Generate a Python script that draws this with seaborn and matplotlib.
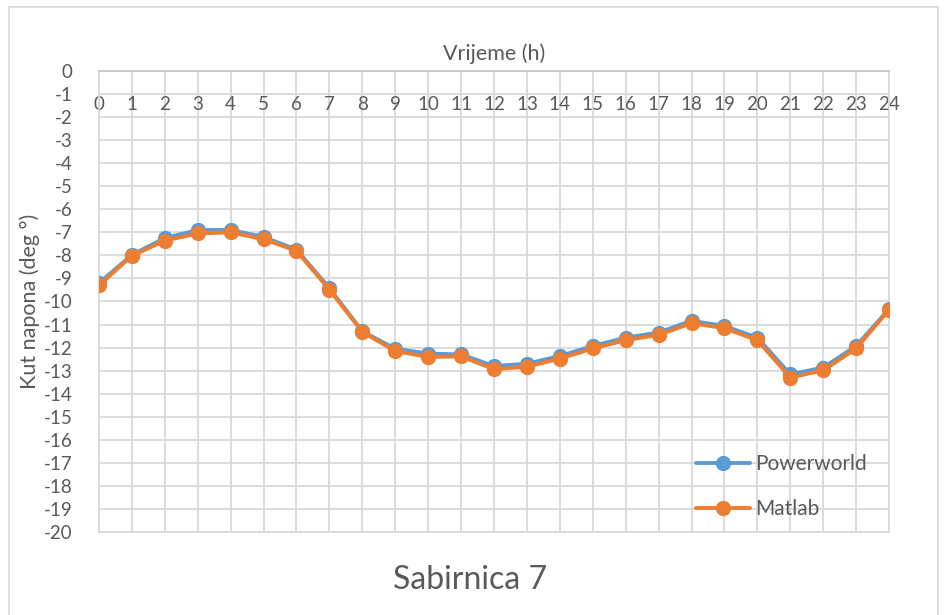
import seaborn as sns
import matplotlib.pyplot as plt
import matplotlib.patches as patches
import pandas as pd

# values (Sabirnica 7)
hours = list(range(25))
powerworld = [-9.2, -7.98, -7.25, -6.9, -6.9, -7.2, -7.75, -9.42, -11.3, -12.05, -12.26, -12.3, -12.8,
              -12.7, -12.37, -11.93, -11.57, -11.35, -10.84, -11.06, -11.57, -13.16, -12.87, -11.93, -10.33]
matlab = [-9.3, -8.02, -7.36, -7.05, -7.0, -7.3, -7.8, -9.49, -11.32, -12.15, -12.41, -12.38, -12.94,
          -12.83, -12.48, -12.04, -11.68, -11.45, -10.94, -11.16, -11.68, -13.30, -12.99, -12.04, -10.36]
series_names = ["Powerworld", "Matlab"]
y_ticks = list(range(0, -21, -1))

df = pd.DataFrame({
    "Vrijeme": hours * 2,
    "Kut": powerworld + matlab,
    "Serija": [series_names[0]] * len(hours) + [series_names[1]] * len(hours),
})

sns.set_style("white")
plt.rcParams["font.family"] = ["Lato", "DejaVu Sans"]
txt = "#595959"
grid = "#d9d9d9"

fig = plt.figure(figsize=(9.49, 6.15), dpi=100)
ax = fig.add_axes([0.1043, 0.135, 0.8325, 0.7496])

palette = {"Powerworld": "#5b9bd5", "Matlab": "#ed7d31"}
sns.lineplot(data=df, x="Vrijeme", y="Kut", hue="Serija", palette=palette, marker="o",
             markersize=11, markeredgewidth=0, linewidth=2.8, ax=ax, zorder=3)

ax.set_xlim(0, 24)
ax.set_ylim(-20, 0)
ax.set_xticks(hours)
ax.set_yticks(y_ticks)
ax.set_yticklabels([str(v) for v in y_ticks])
ax.grid(True, color=grid, linewidth=1.3)
ax.set_axisbelow(True)
for s in ax.spines.values():
    s.set_color(grid)
    s.set_linewidth(1.3)
ax.spines["top"].set_color("#c8c8c8")

ax.xaxis.tick_top()
ax.xaxis.set_label_position("top")
ax.tick_params(axis="x", length=0, pad=-30, labelsize=13.5, labelcolor=txt)
ax.tick_params(axis="y", length=0, pad=19, labelsize=13.5, labelcolor=txt)
ax.set_xlabel("Vrijeme (h)", fontsize=15.5, color=txt, labelpad=8)
ax.set_ylabel("Kut napona (deg °)", fontsize=15.5, color=txt, labelpad=3)

leg = ax.legend(loc="lower right", bbox_to_anchor=(0.985, 0.005), frameon=False, fontsize=15,
                handlelength=2.6, handletextpad=0.25, labelspacing=1.2, borderpad=0)
for t in leg.get_texts():
    t.set_color(txt)

fig.text(0.495, 0.057, "Sabirnica 7", ha="center", va="center", fontsize=23, color=txt)
fig.patches.append(patches.Rectangle((9 / 949, -0.05), 929 / 949, 1.05 - 7 / 615, transform=fig.transFigure,
                                     fill=False, edgecolor=grid, linewidth=1.2))

plt.savefig("out.png", dpi=100)
